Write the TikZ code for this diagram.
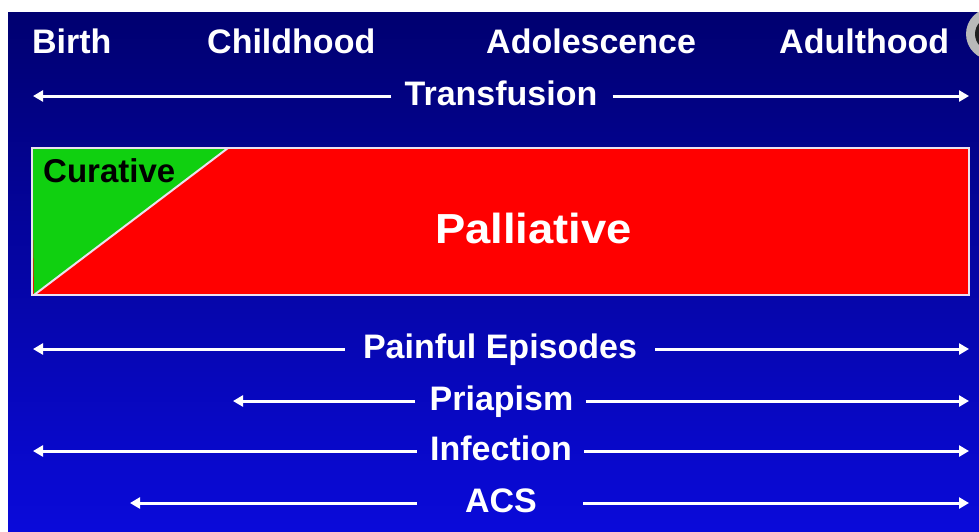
\documentclass[tikz,border=0pt]{standalone}
\usepackage{fontspec}
\setmainfont{Liberation Sans}
\usetikzlibrary{arrows.meta,calc}
\definecolor{bgtop}{RGB}{0,0,112}
\definecolor{bgbot}{RGB}{10,10,218}
\definecolor{curgreen}{RGB}{16,208,16}
\definecolor{palred}{RGB}{255,0,0}
\definecolor{edgewhite}{RGB}{235,225,240}
\begin{document}
\begin{tikzpicture}[x=1pt,y=-1pt,
  lab/.style={text=white,font=\bfseries\fontsize{34}{40}\selectfont,inner sep=0pt,anchor=base},
  toplab/.style={lab,anchor=base west},
  arr/.style={draw=white,line width=3pt,-{Triangle[length=10pt,width=11pt]}},
  ]
\useasboundingbox (0,0) rectangle (979,531);
\fill[white] (0,0) rectangle (979,531);
\shade[top color=bgtop,bottom color=bgbot] (8,12) rectangle (979,531);
% corner button
\begin{scope}
\clip (8,12) rectangle (979,531);
\fill[gray!55] (992,34) circle (26);
\fill[gray!25!black] (992,34) circle (17);
\end{scope}
% top labels
\node[toplab] (birth) at (32,53) {Birth};
\node[toplab] (child) at (207,53) {Childhood};
\node[toplab] (adol) at (486,53) {Adolescence};
\node[toplab] (adult) at (779,53) {Adulthood};
% box
\coordinate (bTL) at (32,148);
\coordinate (bBR) at (969,295);
\coordinate (gTR) at (228,148);
\coordinate (gBL) at (34,295);
\fill[palred] (bTL) rectangle (bBR);
\fill[curgreen] (bTL) -- (gTR) -- (gBL |- bBR) -- cycle;
\draw[edgewhite,line width=2pt] (gBL) -- (gTR);
\draw[edgewhite,line width=2pt] (bTL) rectangle (bBR);
\node[anchor=base west,inner sep=0pt,font=\bfseries\fontsize{33}{38}\selectfont,text=black] (cur) at (43,182) {Curative};
\node[lab] (pal) at (533.5,243) {\scalebox{1.08}[1]{\fontsize{42}{48}\selectfont Palliative}};
% rows
\coordinate (tL) at (33,96);   \coordinate (tR) at (969,96);
\node[lab] (trans) at (501,105) {Transfusion};
\draw[arr] ($(trans.west |- tL)+(-13,0)$) -- (tL);
\draw[arr] ($(trans.east |- tR)+(15,0)$) -- (tR);

\coordinate (pL) at (33,349);  \coordinate (pR) at (969,349);
\node[lab] (pain) at (500,358) {Painful Episodes};
\draw[arr] ($(pain.west |- pL)+(-18,0)$) -- (pL);
\draw[arr] ($(pain.east |- pR)+(18,0)$) -- (pR);

\coordinate (qL) at (233,401); \coordinate (qR) at (969,401);
\node[lab] (pria) at (501.5,410) {Priapism};
\draw[arr] ($(pria.west |- qL)+(-14,0)$) -- (qL);
\draw[arr] ($(pria.east |- qR)+(12,0)$) -- (qR);

\coordinate (iL) at (33,451);  \coordinate (iR) at (969,451);
\node[lab] (inf) at (501,460) {Infection};
\draw[arr] ($(inf.west |- iL)+(-13,0)$) -- (iL);
\draw[arr] ($(inf.east |- iR)+(12,0)$) -- (iR);

\coordinate (aL) at (130,503); \coordinate (aR) at (969,503);
\coordinate (aLi) at (417,503); \coordinate (aRi) at (583,503);
\node[lab] (acs) at (501,512) {ACS};
\draw[arr] (aLi) -- (aL);
\draw[arr] (aRi) -- (aR);
\end{tikzpicture}
\end{document}
